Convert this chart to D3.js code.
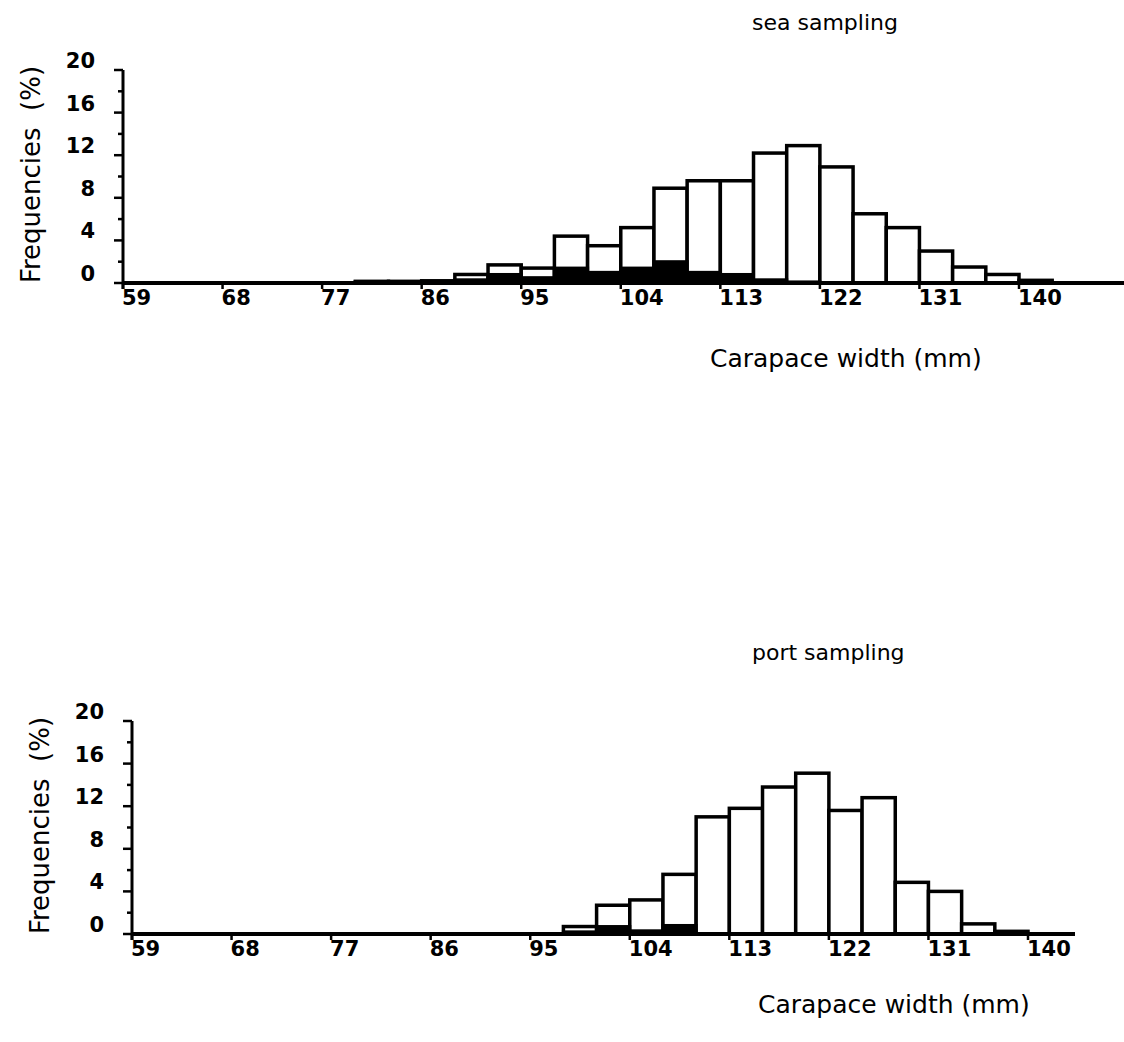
<!DOCTYPE html>
<html>
<head>
<meta charset="utf-8">
<script src="https://cdn.jsdelivr.net/npm/d3@7"></script>
<style>
	body { margin: 0; background: #fff; }
	svg { display: block; }
	text { fill: #000; font-family: 'DejaVu Sans', sans-serif; }
	.tick-label { font-size: 21px; font-weight: bold; }
	.title { font-size: 22px; }
	.axis-title { font-size: 25px; }
	.y-title { font-size: 26px; }
</style>
</head>
<body>
<svg id="chart" width="1124" height="1042"></svg>
<script>
// carapace width classes, 3 mm wide, left edge of each class
const BIN_WIDTH = 3;
const X_TICKS = [59, 68, 77, 86, 95, 104, 113, 122, 131, 140];
const Y_TICKS = [0, 4, 8, 12, 16, 20];
const Y_MINOR = [2, 6, 10, 14, 18];

const SEA_BINS = [80, 83, 86, 89, 92, 95, 98, 101, 104, 107, 110, 113, 116, 119, 122, 125, 128, 131, 134, 137, 140];
const SEA_ALL = [0.15, 0.15, 0.2, 0.8, 1.7, 1.4, 4.4, 3.5, 5.2, 8.9, 9.6, 9.6, 12.2, 12.9, 10.9, 6.5, 5.2, 3.0, 1.5, 0.8, 0.25];
const SEA_DARK = [0.15, 0.15, 0.2, 0.3, 0.8, 0.5, 1.4, 1.0, 1.4, 2.0, 1.0, 0.8, 0.3, 0.1, 0, 0, 0, 0, 0, 0, 0];

const PORT_BINS = [98, 101, 104, 107, 110, 113, 116, 119, 122, 125, 128, 131, 134, 137];
const PORT_ALL = [0.7, 2.7, 3.2, 5.6, 11.0, 11.8, 13.8, 15.1, 11.6, 12.8, 4.85, 4.0, 0.95, 0.25];
const PORT_DARK = [0.2, 0.7, 0.3, 0.8, 0, 0, 0, 0, 0, 0, 0, 0, 0, 0];

const $svg = d3.select('#chart');

function drawPanel({ bins, all, dark, left, top, bottom, right, title, titleX, titleY, xTitleX, xTitleY }) {
	const x = d3.scaleLinear().domain([59, 140]).range([left, left + 896]);
	const y = d3.scaleLinear().domain([0, 20]).range([bottom, top]);
	const $g = $svg.append('g');

	const rows = bins.map((b, i) => ({ start: b, all: all[i], dark: dark[i] }));

	// open bars (all crabs)
	$g.selectAll('.bar')
		.data(rows)
		.enter()
		.append('rect')
		.attr('x', d => x(d.start))
		.attr('width', d => x(d.start + BIN_WIDTH) - x(d.start))
		.attr('y', d => y(d.all))
		.attr('height', d => y(0) - y(d.all))
		.attr('fill', '#fff')
		.attr('stroke', '#000')
		.attr('stroke-width', 3.5);

	// filled part
	$g.selectAll('.dark')
		.data(rows.filter(d => d.dark > 0))
		.enter()
		.append('rect')
		.attr('x', d => x(d.start))
		.attr('width', d => x(d.start + BIN_WIDTH) - x(d.start))
		.attr('y', d => y(d.dark))
		.attr('height', d => y(0) - y(d.dark))
		.attr('fill', '#000')
		.attr('stroke', '#000')
		.attr('stroke-width', 3);

	// x axis
	$g.append('line')
		.attr('x1', left).attr('x2', right)
		.attr('y1', bottom).attr('y2', bottom)
		.attr('stroke', '#000').attr('stroke-width', 4);
	$g.selectAll('.xtick')
		.data(X_TICKS)
		.enter()
		.append('line')
		.attr('x1', d => x(d)).attr('x2', d => x(d))
		.attr('y1', bottom).attr('y2', bottom + 6)
		.attr('stroke', '#000').attr('stroke-width', 2.5);
	$g.selectAll('.xlab')
		.data(X_TICKS)
		.enter()
		.append('text')
		.attr('class', 'tick-label')
		.attr('x', d => x(d) - 1)
		.attr('y', bottom + 22)
		.text(d => d);

	// y axis
	$g.append('line')
		.attr('x1', left).attr('x2', left)
		.attr('y1', top).attr('y2', bottom + 6)
		.attr('stroke', '#000').attr('stroke-width', 3);
	$g.selectAll('.ytick')
		.data(Y_TICKS)
		.enter()
		.append('line')
		.attr('x1', left - 9).attr('x2', left)
		.attr('y1', d => y(d)).attr('y2', d => y(d))
		.attr('stroke', '#000').attr('stroke-width', 2.5);
	$g.selectAll('.yminor')
		.data(Y_MINOR)
		.enter()
		.append('line')
		.attr('x1', left - 5).attr('x2', left)
		.attr('y1', d => y(d)).attr('y2', d => y(d))
		.attr('stroke', '#000').attr('stroke-width', 2.5);
	$g.selectAll('.ylab')
		.data(Y_TICKS)
		.enter()
		.append('text')
		.attr('class', 'tick-label')
		.attr('text-anchor', 'end')
		.attr('x', left - 28)
		.attr('y', d => y(d) - 2)
		.text(d => d);

	$g.append('text')
		.attr('class', 'y-title')
		.attr('transform', `translate(${left - 83},${(top + bottom) / 2 - 2}) rotate(-90)`)
		.attr('text-anchor', 'middle')
		.attr('xml:space', 'preserve')
		.text('Frequencies  (%)');

	$g.append('text')
		.attr('class', 'title')
		.attr('x', titleX)
		.attr('y', titleY)
		.text(title);

	$g.append('text')
		.attr('class', 'axis-title')
		.attr('x', xTitleX)
		.attr('y', xTitleY)
		.text('Carapace width (mm)');
}

drawPanel({
	bins: SEA_BINS,
	all: SEA_ALL,
	dark: SEA_DARK,
	left: 123,
	top: 70,
	bottom: 283,
	right: 1124,
	title: 'sea sampling',
	titleX: 752,
	titleY: 30,
	xTitleX: 710,
	xTitleY: 367
});

drawPanel({
	bins: PORT_BINS,
	all: PORT_ALL,
	dark: PORT_DARK,
	left: 132,
	top: 721,
	bottom: 934,
	right: 1075,
	title: 'port sampling',
	titleX: 752,
	titleY: 660,
	xTitleX: 758,
	xTitleY: 1013
});
</script>
</body>
</html>
